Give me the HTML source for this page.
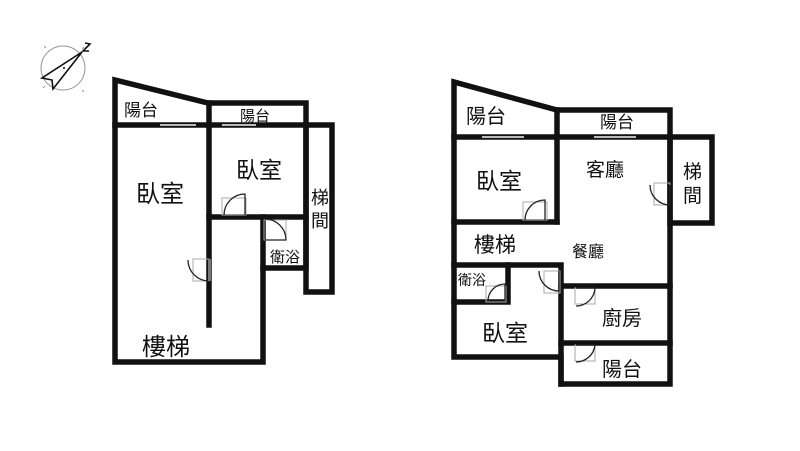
<!DOCTYPE html>
<html><head><meta charset="utf-8"><style>
html,body{margin:0;padding:0;background:#fff;}
svg{display:block}
text{font-family:"Liberation Sans","Noto Sans CJK TC",sans-serif;fill:#111;}
</style></head><body>
<svg width="800" height="451" viewBox="0 0 800 451" xmlns="http://www.w3.org/2000/svg">
<rect x="0" y="0" width="800" height="451" fill="#fff"/>
<g stroke="#999" fill="none" stroke-width="1">
<circle cx="63" cy="68" r="22"/>
<line x1="44" y1="46" x2="46" y2="48"/><line x1="82" y1="90" x2="84" y2="92"/>
<line x1="43" y1="88" x2="45" y2="86"/><line x1="84" y1="47" x2="82" y2="49"/>
</g>
<g stroke="#111" fill="none" stroke-width="1.6">
<polygon points="82,52 42,78 52,80 53,89"/>
<polyline points="85,43 90,44 83,51 89,51"/>
</g>
<circle cx="64" cy="68" r="1" fill="#111"/>

<g stroke="#111" stroke-width="5.5" fill="none" stroke-linecap="square">
<polyline points="115,362 115,80 208,103 306,103 306,268 263,268 263,362 115,362"/>
<line x1="115" y1="125" x2="306" y2="125"/>
<line x1="209" y1="103" x2="209" y2="325"/>
<line x1="209" y1="217" x2="306" y2="217"/>
<line x1="263" y1="217" x2="263" y2="268"/>
<rect x="306" y="125" width="26" height="167"/>
<polyline points="454,357 454,82 557,110 670,110 670,384 561,384 561,357 454,357"/>
<line x1="454" y1="137" x2="670" y2="137"/>
<line x1="557" y1="110" x2="557" y2="222"/>
<line x1="454" y1="222" x2="557" y2="222"/>
<rect x="670" y="137" width="42" height="86"/>
<polyline points="454,265 561,265 561,384"/>
<polyline points="508,265 508,302 454,302"/>
<line x1="561" y1="286" x2="670" y2="286"/>
<line x1="561" y1="343" x2="670" y2="343"/>
</g>
<g stroke="#bbb" stroke-width="2">
<line x1="160" y1="125" x2="196" y2="125"/><line x1="222" y1="125" x2="256" y2="125"/>
<line x1="482" y1="137" x2="524" y2="137"/><line x1="594" y1="137" x2="636" y2="137"/>
</g>
<g stroke="#aaa" fill="none" stroke-width="1">
<rect x="222" y="198" width="24" height="17"/><rect x="264" y="220" width="22" height="20"/>
<rect x="193" y="259" width="16" height="22"/>
<rect x="523" y="202" width="24" height="18"/><rect x="654" y="183" width="16" height="22"/>
<rect x="486" y="286" width="20" height="16"/><rect x="544" y="271" width="16" height="22"/>
<rect x="575" y="288" width="20" height="16"/><rect x="575" y="345" width="20" height="16"/>
</g>
<g stroke="#222" fill="none" stroke-width="1.3">
<path d="M224,215 A21,21 0 0 1 245,194 L245,215"/>
<path d="M265,219 A21,21 0 0 1 286,240 L265,240"/>
<path d="M188,260 A21,21 0 0 0 209,281"/>
<path d="M525,220 A20,20 0 0 1 545,200 L545,220"/>
<path d="M650,185 A20,20 0 0 0 670,205 L670,185"/>
<path d="M488,301 A17,17 0 0 1 505,284 L505,301"/>
<path d="M539,271 A20,20 0 0 0 559,291 L559,271"/>
<path d="M576,306 A19,19 0 0 0 595,288 L576,288"/>
<path d="M576,362 A19,19 0 0 0 595,345 L576,345"/>
</g>
<rect x="208" y="259" width="3" height="22" fill="#777"/>
<text x="124" y="116" font-size="17">陽台</text>
<text x="240" y="121" font-size="15">陽台</text>
<text x="236" y="178" font-size="23">臥室</text>
<text x="136" y="202" font-size="24">臥室</text>
<text x="311" y="204" font-size="18">梯</text>
<text x="311" y="227" font-size="18">間</text>
<text x="270" y="262" font-size="15">衛浴</text>
<text x="142" y="355" font-size="24">樓梯</text>
<text x="466" y="123" font-size="20">陽台</text>
<text x="600" y="128" font-size="17">陽台</text>
<text x="476" y="189" font-size="23">臥室</text>
<text x="586" y="176" font-size="19">客廳</text>
<text x="683" y="178" font-size="19">梯</text>
<text x="683" y="202" font-size="19">間</text>
<text x="474" y="252" font-size="21">樓梯</text>
<text x="572" y="257" font-size="16">餐廳</text>
<text x="458" y="285" font-size="14">衛浴</text>
<text x="602" y="325" font-size="20">廚房</text>
<text x="482" y="341" font-size="23">臥室</text>
<text x="602" y="376" font-size="20">陽台</text>
</svg>
</body></html>
